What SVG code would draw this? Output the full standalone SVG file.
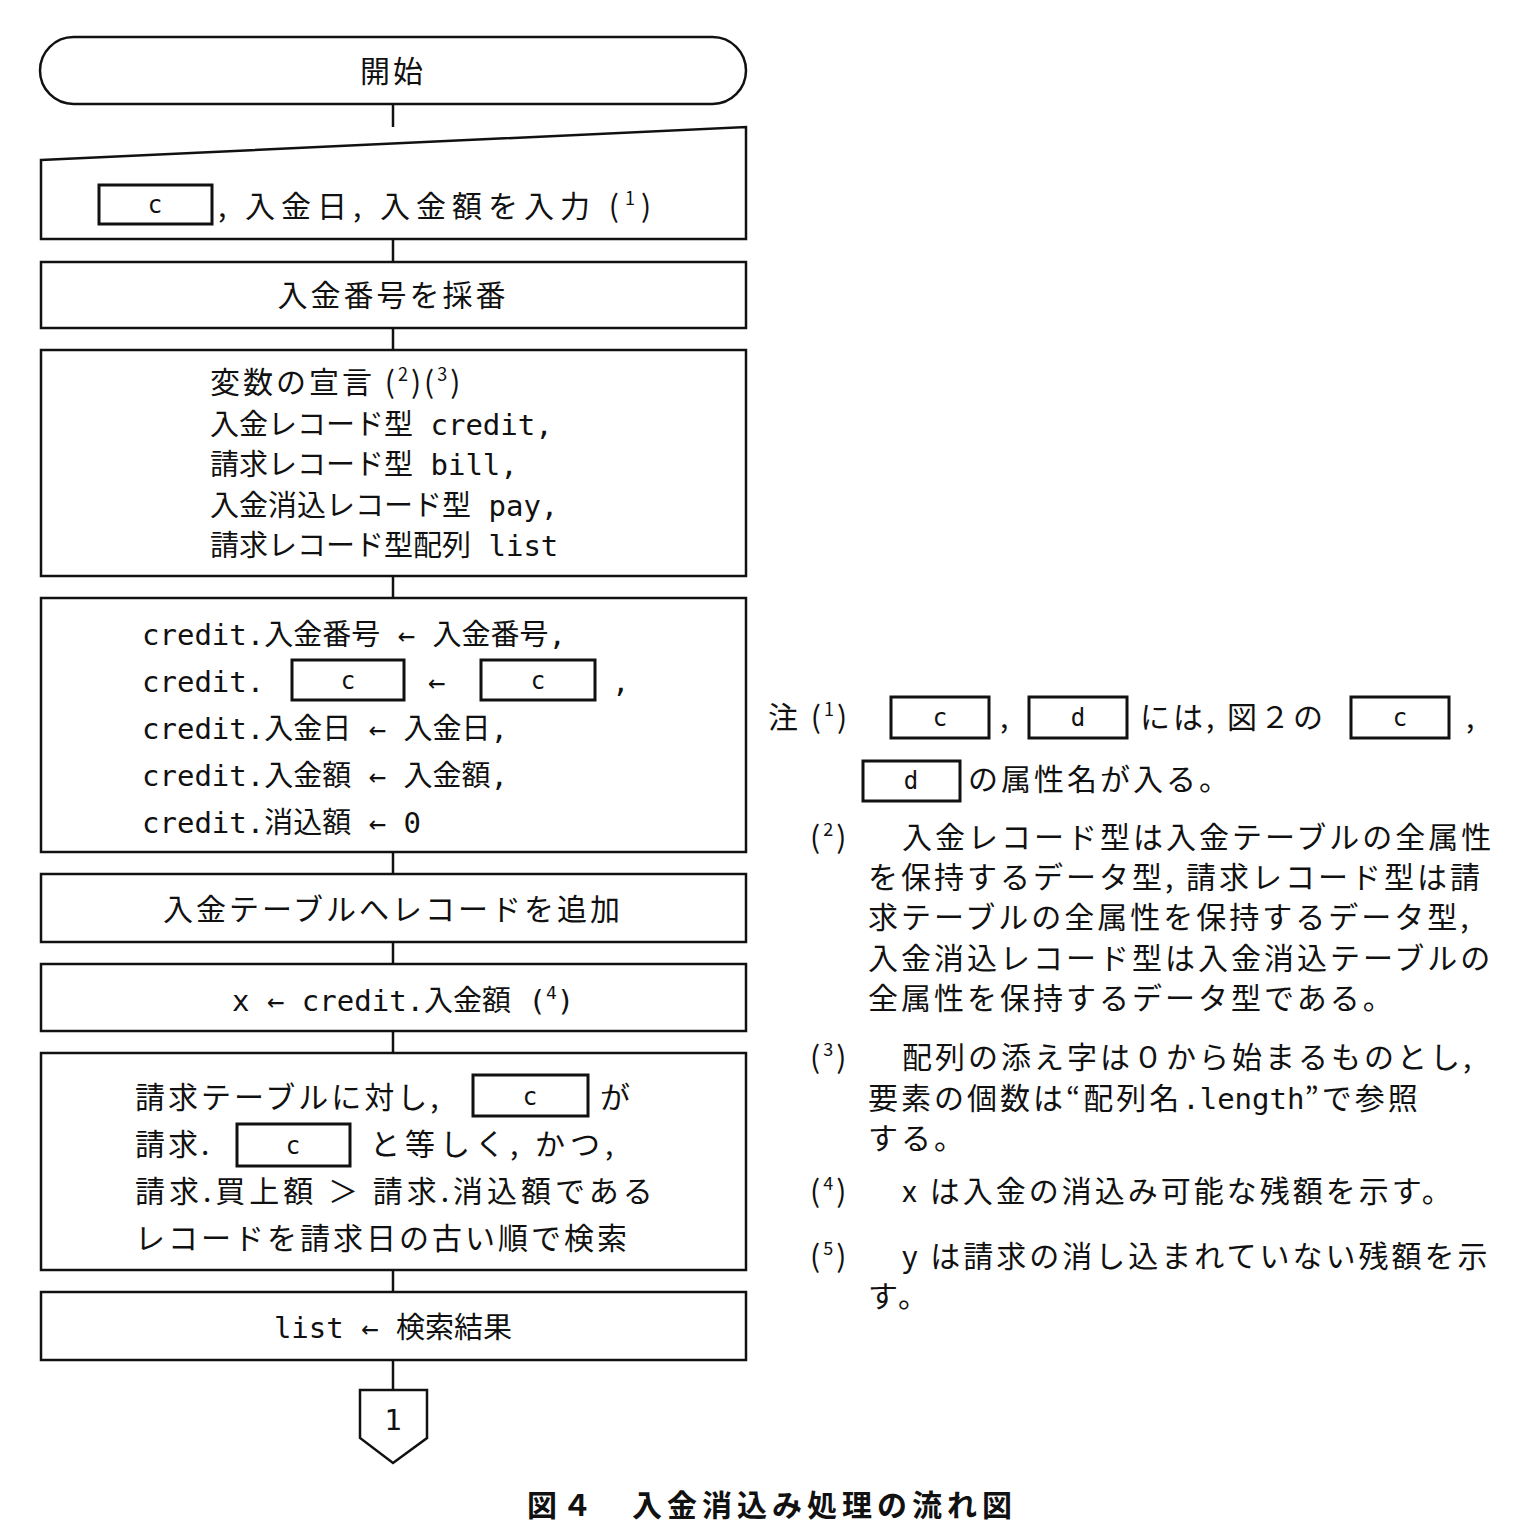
<svg xmlns="http://www.w3.org/2000/svg" width="1536" height="1534" viewBox="0 0 1536 1534">
<style>
.s{fill:#fff;stroke:#111;stroke-width:2.5}
.b{fill:none;stroke:#111;stroke-width:3}
.t{font-family:"Noto Sans CJK JP",sans-serif;font-size:30px;fill:#111;letter-spacing:3px}
.m{font-family:"DejaVu Sans Mono","Noto Sans CJK JP",monospace;font-size:29px;fill:#111}
.bx{font-family:"DejaVu Sans Mono",monospace;font-size:24px;fill:#111;text-anchor:middle}
.sup{font-size:18px}
</style>
<rect width="1536" height="1534" fill="#fff"/>
<g id="connectors" stroke="#111" stroke-width="2.5">
<line x1="393" y1="104" x2="393" y2="127"/><line x1="393" y1="239" x2="393" y2="262"/>
<line x1="393" y1="328" x2="393" y2="350"/><line x1="393" y1="576" x2="393" y2="598"/>
<line x1="393" y1="852" x2="393" y2="874"/><line x1="393" y1="942" x2="393" y2="964"/>
<line x1="393" y1="1031" x2="393" y2="1053"/><line x1="393" y1="1270" x2="393" y2="1292"/>
<line x1="393" y1="1360" x2="393" y2="1390"/>
</g>
<g id="start"><rect class="s" x="40" y="37" width="706" height="67" rx="33.5"/><text class="t" x="393" y="82" text-anchor="middle">開始</text></g>
<g id="input"><polygon class="s" points="41,160 746,127 746,239 41,239"/>
<rect class="b" x="99" y="185" width="113" height="39"/><text class="bx" x="155" y="213">c</text>
<text class="t" x="218" y="217" style="letter-spacing:6px">, 入金日, 入金額を入力 (<tspan class="sup" dy="-12">1</tspan><tspan dy="12">)</tspan></text></g>
<g id="number"><rect class="s" x="41" y="262" width="705" height="66"/><text class="t" x="393" y="306" text-anchor="middle">入金番号を採番</text></g>
<g id="decl"><rect class="s" x="41" y="350" width="705" height="226"/>
<text class="t" x="210" y="393">変数の宣言 (<tspan class="sup" dy="-12">2</tspan><tspan dy="12">)(</tspan><tspan class="sup" dy="-12">3</tspan><tspan dy="12">)</tspan></text>
<text class="m" x="210" y="435">入金レコード型  credit,</text>
<text class="m" x="210" y="475">請求レコード型  bill,</text>
<text class="m" x="210" y="516">入金消込レコード型  pay,</text>
<text class="m" x="210" y="556">請求レコード型配列  list</text></g>
<g id="assign"><rect class="s" x="41" y="598" width="705" height="254"/>
<text class="m" x="142" y="645">credit.入金番号 ← 入金番号,</text>
<text class="m" x="142" y="692">credit.</text>
<rect class="b" x="292" y="660" width="112" height="40"/><text class="bx" x="348" y="689">c</text>
<text class="m" x="428" y="692">←</text>
<rect class="b" x="481" y="660" width="114" height="40"/><text class="bx" x="538" y="689">c</text>
<text class="m" x="612" y="692">,</text>
<text class="m" x="142" y="739">credit.入金日 ← 入金日,</text>
<text class="m" x="142" y="786">credit.入金額 ← 入金額,</text>
<text class="m" x="142" y="833">credit.消込額 ← 0</text></g>
<g id="add"><rect class="s" x="41" y="874" width="705" height="68"/><text class="t" x="393" y="920" text-anchor="middle">入金テーブルへレコードを追加</text></g>
<g id="x"><rect class="s" x="41" y="964" width="705" height="67"/><text class="m" x="232" y="1011">x ← credit.入金額 (<tspan class="sup" dy="-12">4</tspan><tspan dy="12">)</tspan></text></g>
<g id="search"><rect class="s" x="41" y="1053" width="705" height="217"/>
<text class="t" x="135" y="1108">請求テーブルに対し,</text>
<rect class="b" x="473" y="1075" width="115" height="41"/><text class="bx" x="530" y="1105">c</text>
<text class="t" x="600" y="1108">が</text>
<text class="t" x="135" y="1155">請求.</text>
<rect class="b" x="237" y="1124" width="113" height="42"/><text class="bx" x="293" y="1154">c</text>
<text class="t" x="370" y="1155" style="letter-spacing:5px">と等しく, かつ,</text>
<text class="t" x="135" y="1202" style="letter-spacing:4px">請求.買上額 ＞ 請求.消込額である</text>
<text class="t" x="135" y="1249">レコードを請求日の古い順で検索</text></g>
<g id="list"><rect class="s" x="41" y="1292" width="705" height="68"/><text class="m" x="393" y="1338" text-anchor="middle">list ← 検索結果</text></g>
<g id="conn1"><polygon class="s" points="360,1390 427,1390 427,1438 393,1463 360,1438"/><text class="m" x="393" y="1430" text-anchor="middle">1</text></g>
<g id="notes">
<text class="t" x="768" y="728">注 (<tspan class="sup" dy="-12">1</tspan><tspan dy="12">)</tspan></text>
<rect class="b" x="891" y="697" width="98" height="41"/><text class="bx" x="940" y="726">c</text>
<text class="t" x="1000" y="728">,</text>
<rect class="b" x="1029" y="697" width="98" height="41"/><text class="bx" x="1078" y="726">d</text>
<text class="t" x="1140" y="728">には, 図２の</text>
<rect class="b" x="1351" y="697" width="98" height="41"/><text class="bx" x="1400" y="726">c</text>
<text class="t" x="1466" y="728">,</text>
<rect class="b" x="863" y="761" width="97" height="40"/><text class="bx" x="911" y="789">d</text>
<text class="t" x="968" y="790">の属性名が入る。</text>
<text class="t" x="810" y="848">(<tspan class="sup" dy="-12">2</tspan><tspan dy="12">)</tspan></text>
<text class="t" x="902" y="848">入金レコード型は入金テーブルの全属性</text>
<text class="t" x="868" y="888">を保持するデータ型, 請求レコード型は請</text>
<text class="t" x="868" y="928">求テーブルの全属性を保持するデータ型,</text>
<text class="t" x="868" y="969">入金消込レコード型は入金消込テーブルの</text>
<text class="t" x="868" y="1009">全属性を保持するデータ型である。</text>
<text class="t" x="810" y="1068">(<tspan class="sup" dy="-12">3</tspan><tspan dy="12">)</tspan></text>
<text class="t" x="902" y="1068">配列の添え字は０から始まるものとし,</text>
<text class="t" x="868" y="1109">要素の個数は“配列名<tspan class="m" style="letter-spacing:0">.length</tspan>”で参照</text>
<text class="t" x="868" y="1149">する。</text>
<text class="t" x="810" y="1202">(<tspan class="sup" dy="-12">4</tspan><tspan dy="12">)</tspan></text>
<text class="t" x="902" y="1202">x は入金の消込み可能な残額を示す。</text>
<text class="t" x="810" y="1267">(<tspan class="sup" dy="-12">5</tspan><tspan dy="12">)</tspan></text>
<text class="t" x="902" y="1267">y は請求の消し込まれていない残額を示</text>
<text class="t" x="868" y="1307">す。</text>
</g>
<text class="t" x="772" y="1516" text-anchor="middle" font-weight="bold" font-size="32" style="letter-spacing:5px">図４　入金消込み処理の流れ図</text>
</svg>
